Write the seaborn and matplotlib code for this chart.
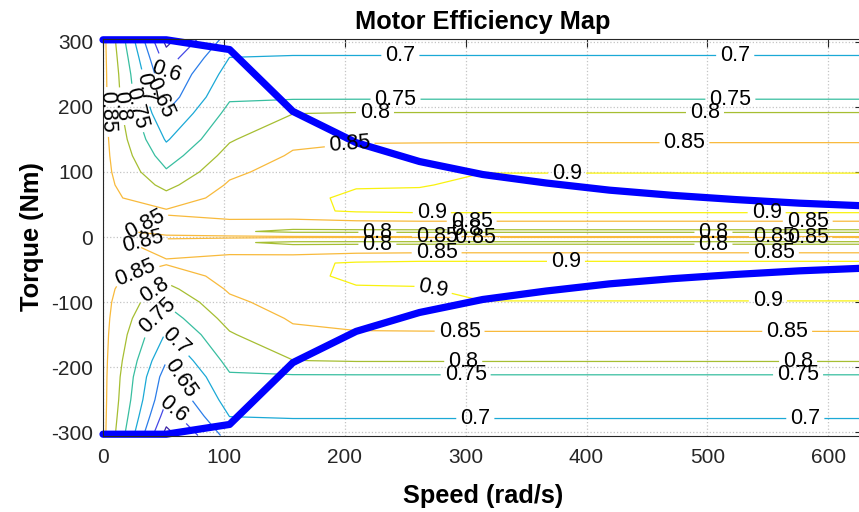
import numpy as np
import matplotlib
matplotlib.use("Agg")
import matplotlib.pyplot as plt
import seaborn as sns

# Grid of the efficiency map: speed columns (rad/s) and positive torque rows (Nm)
speed = [0, 52.36, 104.72, 157.08, 209.44, 261.80, 314.16,
         366.52, 418.88, 471.24, 523.60, 575.96, 628.32]
torque_pos = [0, 8.5, 40, 60, 80, 100, 125, 150, 190, 215, 250, 275, 305]

# Efficiency along each torque row (one value per speed column)
eff_T0   = [0.865, 0.860, 0.860, 0.857, 0.855, 0.855, 0.855, 0.855, 0.855, 0.855, 0.855, 0.855, 0.855]
eff_T8   = [0.865, 0.830, 0.807, 0.790, 0.790, 0.790, 0.790, 0.790, 0.790, 0.790, 0.790, 0.790, 0.790]
eff_T40  = [0.865, 0.855, 0.880, 0.890, 0.905, 0.910, 0.910, 0.910, 0.910, 0.910, 0.910, 0.910, 0.910]
eff_T60  = [0.865, 0.817, 0.870, 0.890, 0.907, 0.912, 0.915, 0.915, 0.915, 0.915, 0.915, 0.915, 0.915]
eff_T80  = [0.865, 0.786, 0.856, 0.880, 0.897, 0.897, 0.910, 0.910, 0.910, 0.910, 0.910, 0.910, 0.910]
eff_T100 = [0.865, 0.756, 0.840, 0.870, 0.885, 0.887, 0.899, 0.899, 0.899, 0.899, 0.899, 0.899, 0.899]
eff_T125 = [0.865, 0.725, 0.818, 0.855, 0.865, 0.868, 0.870, 0.870, 0.870, 0.870, 0.870, 0.870, 0.870]
eff_T150 = [0.865, 0.695, 0.795, 0.840, 0.845, 0.845, 0.845, 0.845, 0.845, 0.845, 0.845, 0.845, 0.845]
eff_T190 = [0.865, 0.652, 0.765, 0.799, 0.803, 0.803, 0.803, 0.803, 0.803, 0.803, 0.803, 0.803, 0.803]
eff_T215 = [0.865, 0.625, 0.744, 0.742, 0.742, 0.742, 0.742, 0.742, 0.742, 0.742, 0.742, 0.742, 0.742]
eff_T250 = [0.865, 0.603, 0.720, 0.720, 0.720, 0.720, 0.720, 0.720, 0.720, 0.720, 0.720, 0.720, 0.720]
eff_T275 = [0.865, 0.575, 0.701, 0.703, 0.703, 0.703, 0.703, 0.703, 0.703, 0.703, 0.703, 0.703, 0.703]
eff_T305 = [0.865, 0.530, 0.670, 0.680, 0.680, 0.680, 0.680, 0.680, 0.680, 0.680, 0.680, 0.680, 0.680]

# Maximum torque envelope at each speed column (Nm)
torque_max = [303, 303, 288, 193, 145, 116, 96, 83, 72, 64, 57.5, 52, 48]

levels = [0.55, 0.60, 0.65, 0.70, 0.75, 0.80, 0.85, 0.90]
level_colors = ["#3e26a8", "#4448e6", "#2b7de9", "#1ba9d6", "#38bea0",
                "#a6be32", "#f8ba3c", "#f9f20e"]

# Motoring half of the table, mirrored for the generating half
eff_pos = np.array([eff_T0, eff_T8, eff_T40, eff_T60, eff_T80, eff_T100, eff_T125,
                    eff_T150, eff_T190, eff_T215, eff_T250, eff_T275, eff_T305])
tq_pos = np.array(torque_pos, dtype=float)
torque = np.concatenate([-tq_pos[:0:-1], tq_pos])
eff = np.vstack([eff_pos[:0:-1], eff_pos])
spd = np.array(speed)

sns.set_theme(style="white")
plt.rcParams["font.family"] = ["Liberation Sans", "DejaVu Sans"]
plt.rcParams["axes.unicode_minus"] = False

fig = plt.figure(figsize=(8.59, 5.12), dpi=100)
ax = fig.add_axes([0.1199, 0.1494, 0.8842, 0.7754])

ax.grid(True, linestyle=":", color="#c4c4c4", linewidth=0.9)
ax.set_axisbelow(True)

cs = ax.contour(spd, torque, eff, levels=levels, colors=level_colors, linewidths=0.9)

label_pos = [
    # upper region
    (246, 280), (523, 280), (242, 211), (519, 211), (225, 191), (498, 191),
    (204, 143), (481, 145), (384, 99), (272, 36), (549, 36), (305, 24), (583, 24),
    (227, 7.2), (227, -11), (276, 1.6), (300, 11), (308, -1.6), (276, -24),
    (505, 7.2), (505, -11), (555, 1.6), (583, -1.6), (555, -24),
    # lower region
    (308, -280), (581, -280), (300, -211), (575, -211), (298, -191), (575, -191),
    (295, -145), (566, -145), (550, -99), (273, -82), (383, -36),
    # low-speed fan, upper
    (2, 192), (16, 201), (28, 198), (36, 229), (47, 214), (51, 254),
    # low-speed fan, lower
    (27, -57), (44, -84), (46, -123), (60, -161), (65, -217), (60, -262),
    (35, 19), (33, -6),
]
ax.clabel(cs, manual=label_pos, inline=True, inline_spacing=4, fontsize=15.5,
          colors="black", fmt=lambda v: f"{v:g}")

sns.lineplot(x=speed, y=torque_max, color=(0, 0, 1), linewidth=5.2, ax=ax,
             sort=False, estimator=None)
sns.lineplot(x=speed, y=[-t for t in torque_max], color=(0, 0, 1), linewidth=5.2,
             ax=ax, sort=False, estimator=None)
for ln in ax.lines:
    ln.set_clip_on(False)
    ln.set_solid_joinstyle("round")

ax.set_xlim(0, 628.32)
ax.set_ylim(-305, 305)
ax.set_xticks(range(0, 601, 100))
ax.set_yticks(range(-300, 301, 100))

axis_col = "#262626"
ax.tick_params(direction="in", length=5.5, width=0.8, top=True, right=True,
               labelsize=15, colors=axis_col, pad=7)
ax.tick_params(axis="x", pad=9)
for sp in ax.spines.values():
    sp.set_color(axis_col)
    sp.set_linewidth(0.8)

ax.set_xlabel("Speed (rad/s)", fontsize=18.3, fontweight="bold", color="black", labelpad=12)
ax.set_ylabel("Torque (Nm)", fontsize=18.3, fontweight="bold", color="black", labelpad=5)
ax.set_title("Motor Efficiency Map", fontsize=18.3, fontweight="bold", color="black", pad=7)

fig.savefig("out.png", dpi=100)
